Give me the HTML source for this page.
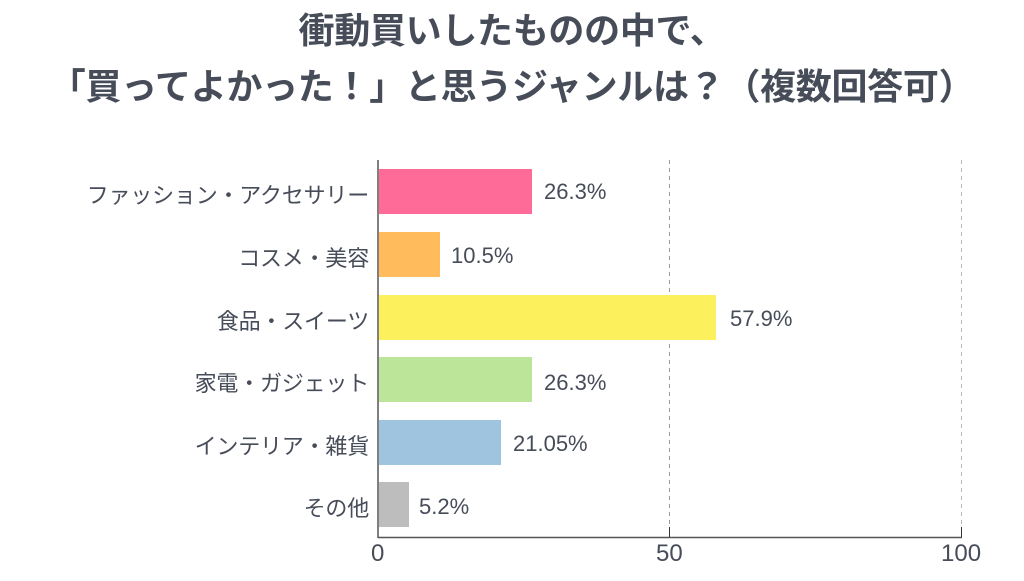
<!DOCTYPE html>
<html><head><meta charset="utf-8"><style>
body{margin:0;width:1024px;height:581px;background:#fff;overflow:hidden;font-family:"Liberation Sans","Noto Sans CJK JP",sans-serif;color:#474c59}
.t{position:absolute;left:0;width:1024px;text-align:center;font-weight:bold;font-size:36px;line-height:42px;letter-spacing:-0.3px}
.lab{position:absolute;right:655px;font-size:22px;text-align:right;white-space:nowrap;letter-spacing:-0.2px}
.val{position:absolute;font-size:22px}
.bar{position:absolute;left:379px;height:45px}
.tk{position:absolute;font-size:24px;top:540px}
</style></head><body>
<div class="t" style="top:10px">衝動買いしたものの中で、</div>
<div class="t" style="top:66px">「買ってよかった！」と思うジャンルは？（複数回答可）</div>
<svg width="1024" height="581" style="position:absolute;left:0;top:0">
<line x1="669.5" y1="160" x2="669.5" y2="537" stroke="#999" stroke-dasharray="4,4"/>
<line x1="961.5" y1="160" x2="961.5" y2="537" stroke="#bbb" stroke-dasharray="4,4"/>
<line x1="378" y1="160" x2="378" y2="538" stroke="#555" stroke-width="1.5"/>
<line x1="378" y1="537.5" x2="962" y2="537.5" stroke="#555" stroke-width="1.5"/>
<line x1="669.5" y1="527" x2="669.5" y2="537" stroke="#333"/>
<line x1="961.5" y1="527" x2="961.5" y2="537" stroke="#333"/>
</svg>
<div class="bar" style="top:169px;width:153px;background:#ff6b98"></div>
<div class="bar" style="top:232px;width:61px;background:#ffbb5c"></div>
<div class="bar" style="top:295px;width:337px;background:#fcf15d"></div>
<div class="bar" style="top:357px;width:153px;background:#bde59a"></div>
<div class="bar" style="top:420px;width:122px;background:#9fc4e0"></div>
<div class="bar" style="top:482px;width:30px;background:#bdbdbd"></div>
<div class="lab" style="top:178px">ファッション・アクセサリー</div>
<div class="lab" style="top:241px">コスメ・美容</div>
<div class="lab" style="top:304px">食品・スイーツ</div>
<div class="lab" style="top:366px">家電・ガジェット</div>
<div class="lab" style="top:429px">インテリア・雑貨</div>
<div class="lab" style="top:491px">その他</div>
<div class="val" style="left:544px;top:179px">26.3%</div>
<div class="val" style="left:451px;top:243px">10.5%</div>
<div class="val" style="left:730px;top:306px">57.9%</div>
<div class="val" style="left:544px;top:370px">26.3%</div>
<div class="val" style="left:513px;top:431px">21.05%</div>
<div class="val" style="left:419px;top:494px">5.2%</div>
<div class="tk" style="left:371px">0</div>
<div class="tk" style="left:656px">50</div>
<div class="tk" style="left:941px">100</div>
</body></html>
